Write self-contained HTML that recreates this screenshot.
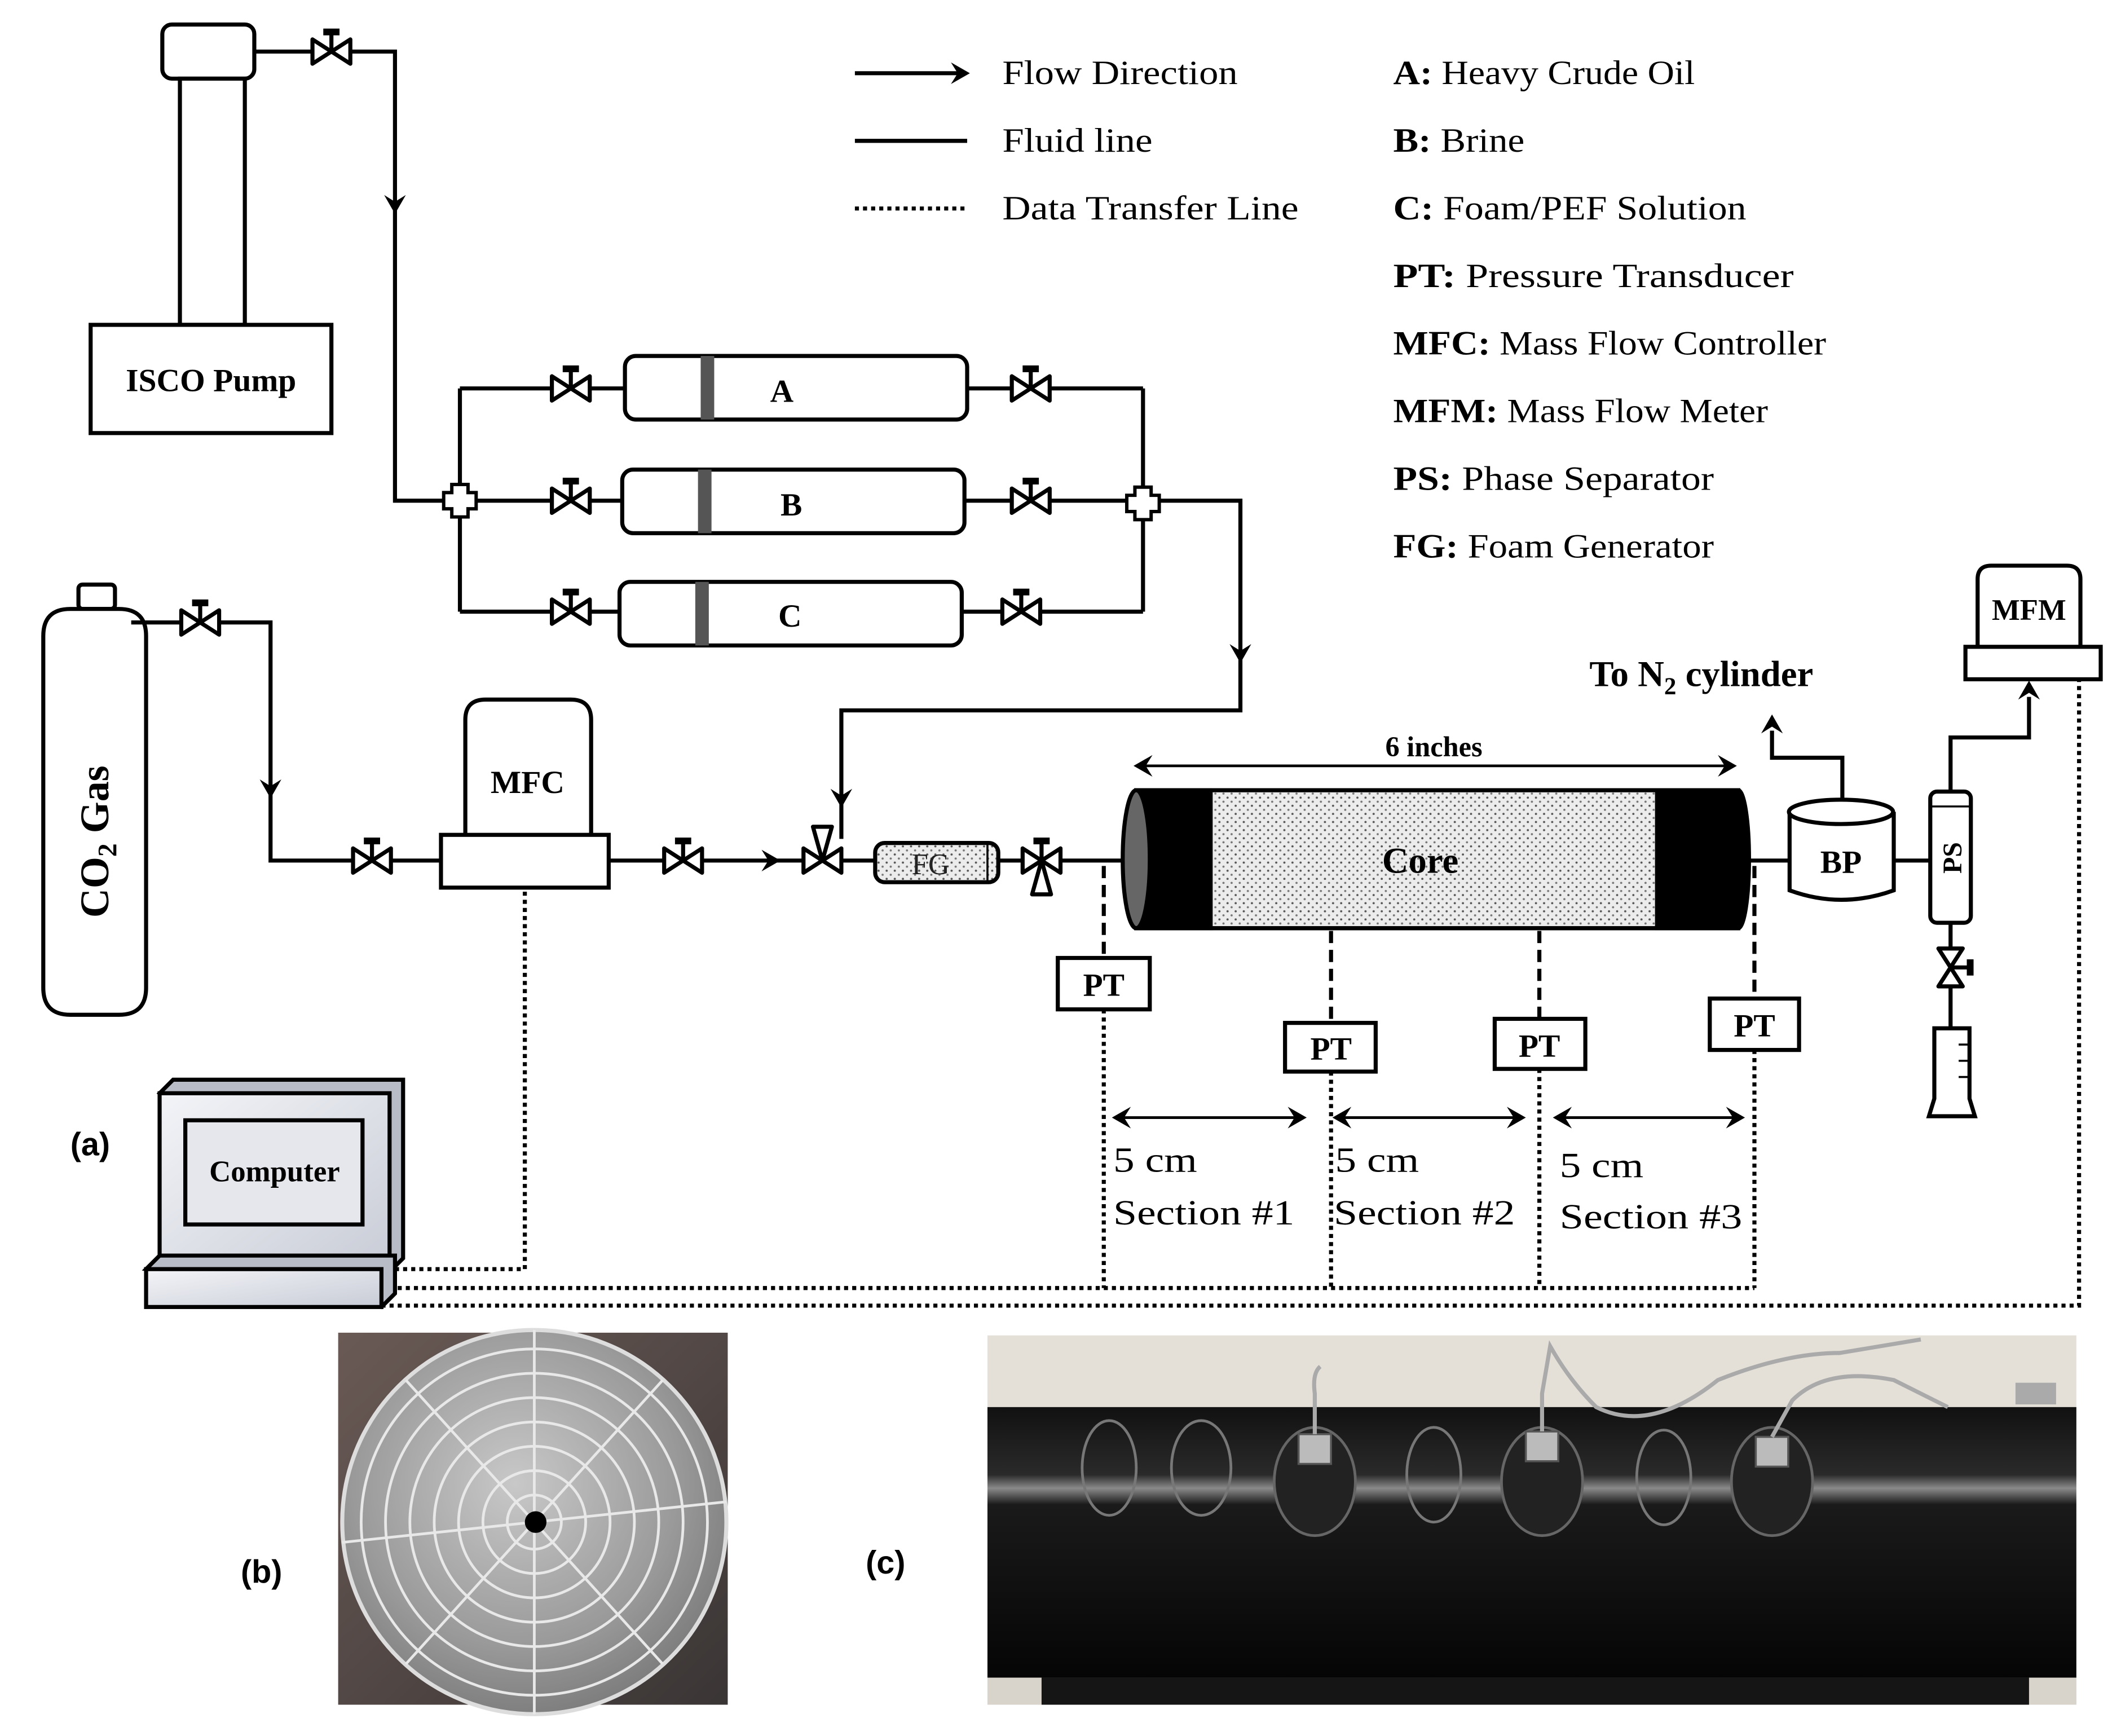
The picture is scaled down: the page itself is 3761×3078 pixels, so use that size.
<!DOCTYPE html>
<html><head><meta charset="utf-8"><style>
html,body{margin:0;padding:0;background:#fff;}
svg{display:block;}
text{font-family:"Liberation Serif",serif;}
.b{font-weight:bold;}
.s{font-family:"Liberation Sans",sans-serif;font-weight:bold;}
</style></head><body>
<svg width="3761" height="3078" viewBox="0 0 1568 1283" xmlns="http://www.w3.org/2000/svg">
<defs>
<pattern id="dots" width="6" height="6" patternUnits="userSpaceOnUse">
<rect width="6" height="6" fill="#ececec"/><circle cx="1.5" cy="1.5" r="0.8" fill="#555"/><circle cx="4.5" cy="4.5" r="0.8" fill="#777"/></pattern>
<g id="valve"><path d="M-14,-9 L14,9 L14,-9 L-14,9 Z" fill="#fff" stroke="#000" stroke-width="3" stroke-linejoin="round"/><line x1="0" y1="0" x2="0" y2="-13" stroke="#000" stroke-width="3"/><rect x="-6" y="-17" width="12" height="5" fill="#000"/></g>
<g id="ah"><path d="M0,0 L-14,-8 L-9,0 L-14,8 Z" fill="#000"/></g>
<linearGradient id="mon" x1="0" y1="0" x2="1" y2="1"><stop offset="0" stop-color="#f3f4f8"/><stop offset="1" stop-color="#c8ccd6"/></linearGradient>
<radialGradient id="disc" cx="0.45" cy="0.4" r="0.7"><stop offset="0" stop-color="#c8c8c8"/><stop offset="0.6" stop-color="#9a9a9a"/><stop offset="1" stop-color="#707070"/></radialGradient>
<linearGradient id="bgb" x1="0" y1="0" x2="1" y2="1"><stop offset="0" stop-color="#6a5a55"/><stop offset="1" stop-color="#3a3535"/></linearGradient>
<linearGradient id="pipe" x1="0" y1="0" x2="0" y2="1"><stop offset="0" stop-color="#111"/><stop offset="0.25" stop-color="#2a2a2a"/><stop offset="0.3" stop-color="#8a8a8a"/><stop offset="0.36" stop-color="#1a1a1a"/><stop offset="1" stop-color="#050505"/></linearGradient>
</defs>
<g fill="none" stroke="#000" stroke-width="3">
<rect x="120" y="18" width="68" height="40" rx="7" fill="#fff"/>
<rect x="133" y="58" width="48" height="182" fill="#fff"/>
<rect x="67" y="240" width="178" height="80" fill="#fff"/>
<polyline points="188,38 292,38 292,370 328,370"/>
<line x1="340" y1="287" x2="340" y2="452"/>
<line x1="340" y1="287" x2="462" y2="287"/><line x1="352" y1="370" x2="460" y2="370"/><line x1="340" y1="452" x2="458" y2="452"/>
<line x1="715" y1="287" x2="845" y2="287"/><line x1="713" y1="370" x2="833" y2="370"/><line x1="711" y1="452" x2="845" y2="452"/>
<line x1="845" y1="287" x2="845" y2="452"/>
<polyline points="857,370 917,370 917,525 622,525 622,620"/>
<rect x="462" y="263" width="253" height="47" rx="8" fill="#fff"/>
<rect x="460" y="347" width="253" height="47" rx="8" fill="#fff"/>
<rect x="458" y="430" width="253" height="47" rx="8" fill="#fff"/>
<rect x="58" y="432" width="27" height="18" rx="3" fill="#fff"/>
<path d="M32,470 Q32,450 52,450 L88,450 Q108,450 108,470 L108,730 Q108,750 88,750 L52,750 Q32,750 32,730 Z" fill="#fff"/>
<polyline points="97,460 200,460 200,636 326,636"/>
<path d="M344,617 L344,532 Q344,517 359,517 L422,517 Q437,517 437,532 L437,617" fill="#fff"/>
<rect x="326" y="617" width="124" height="39" fill="#fff"/>
<line x1="450" y1="636" x2="647" y2="636"/>
<line x1="738" y1="636" x2="833" y2="636"/>
<rect x="647" y="623" width="91" height="29" rx="7" fill="url(#dots)"/>
<line x1="730" y1="624" x2="730" y2="651" stroke-width="1.5"/>
<rect x="840" y="584" width="445" height="102" fill="url(#dots)"/>
<rect x="840" y="584" width="55" height="102" fill="#000"/>
<path d="M1225,584 L1285,584 L1285,686 L1225,686 Z" fill="#000"/>
<line x1="840" y1="584" x2="1285" y2="584"/><line x1="840" y1="686" x2="1285" y2="686"/>
<ellipse cx="840" cy="635" rx="10" ry="51" fill="#666"/>
<ellipse cx="1285" cy="635" rx="8" ry="51" fill="#000"/>
<line x1="1293" y1="636" x2="1323" y2="636"/>
<path d="M1323,600 L1323,658 Q1361,672 1400,658 L1400,600" fill="#fff"/>
<ellipse cx="1361" cy="600" rx="38.5" ry="9" fill="#fff"/>
<polyline points="1362,591 1362,560 1310,560 1310,540"/>
<line x1="1400" y1="636" x2="1427" y2="636"/>
<rect x="1427" y="585" width="30" height="97" rx="5" fill="#fff"/>
<line x1="1427" y1="596" x2="1457" y2="596" stroke-width="1.5"/>
<polyline points="1442,585 1442,545 1500,545 1500,515"/>
<line x1="1442" y1="682" x2="1442" y2="760"/>
<path d="M1430,760 L1456,760 L1456,812 L1460,825 L1426,825 L1430,812 Z" fill="#fff"/>
<line x1="1448" y1="772" x2="1456" y2="772" stroke-width="1.5"/><line x1="1448" y1="784" x2="1456" y2="784" stroke-width="1.5"/><line x1="1448" y1="796" x2="1456" y2="796" stroke-width="1.5"/>
<path d="M1462,478 L1462,428 Q1462,418 1472,418 L1528,418 Q1538,418 1538,428 L1538,478" fill="#fff"/>
<rect x="1453" y="478" width="100" height="24" fill="#fff"/>
<rect x="782" y="708" width="68" height="38" fill="#fff"/>
<rect x="950" y="756" width="67" height="36" fill="#fff"/>
<rect x="1105" y="753" width="67" height="37" fill="#fff"/>
<rect x="1264" y="738" width="66" height="38" fill="#fff"/>
<g stroke-dasharray="9 5"><line x1="816" y1="640" x2="816" y2="708"/><line x1="984" y1="688" x2="984" y2="756"/><line x1="1138" y1="688" x2="1138" y2="753"/><line x1="1297" y1="640" x2="1297" y2="738"/></g>
<g stroke-dasharray="3 3"><line x1="816" y1="746" x2="816" y2="952"/><line x1="984" y1="792" x2="984" y2="952"/><line x1="1138" y1="790" x2="1138" y2="952"/><line x1="1297" y1="776" x2="1297" y2="952"/>
<polyline points="292,938 388,938 388,656"/>
<line x1="282" y1="952" x2="1297" y2="952"/>
<polyline points="282,965 1537,965 1537,502"/>
<line x1="632" y1="154" x2="715" y2="154"/></g>
<line x1="632" y1="54" x2="710" y2="54"/><line x1="632" y1="104" x2="715" y2="104"/>
<line x1="842" y1="566" x2="1279" y2="566" stroke-width="2"/>
<line x1="826" y1="826" x2="962" y2="826" stroke-width="2"/>
<line x1="989" y1="826" x2="1124" y2="826" stroke-width="2"/>
<line x1="1152" y1="826" x2="1286" y2="826" stroke-width="2"/>
</g>
<rect x="518" y="263" width="10" height="47" fill="#555"/><rect x="516" y="347" width="10" height="47" fill="#555"/><rect x="514" y="430" width="10" height="47" fill="#555"/>
<g fill="#fff" stroke="#000" stroke-width="2.5"><path d="M334,358 h12 v6 h6 v12 h-6 v6 h-12 v-6 h-6 v-12 h6 z"/><path d="M839,360 h12 v6 h6 v12 h-6 v6 h-12 v-6 h-6 v-12 h6 z"/></g>
<use href="#valve" x="245" y="38"/><use href="#valve" x="422" y="287"/><use href="#valve" x="422" y="370"/><use href="#valve" x="422" y="452"/>
<use href="#valve" x="762" y="287"/><use href="#valve" x="762" y="370"/><use href="#valve" x="755" y="452"/>
<use href="#valve" x="148" y="460"/><use href="#valve" x="275" y="636"/><use href="#valve" x="505" y="636"/>
<g transform="translate(608,636)"><path d="M-14,-9 L14,9 L14,-9 L-14,9 Z M-7,-25 L7,-25 L0,0 Z" fill="#fff" stroke="#000" stroke-width="3" stroke-linejoin="round"/></g>
<g transform="translate(770,636)"><path d="M-14,-9 L14,9 L14,-9 L-14,9 Z M-7,25 L7,25 L0,0 Z" fill="#fff" stroke="#000" stroke-width="3" stroke-linejoin="round"/><line x1="0" y1="0" x2="0" y2="-13" stroke="#000" stroke-width="3"/><rect x="-6" y="-17" width="12" height="5"/></g>
<g transform="translate(1442,715) rotate(90)"><path d="M-14,-9 L14,9 L14,-9 L-14,9 Z" fill="#fff" stroke="#000" stroke-width="3" stroke-linejoin="round"/><line x1="0" y1="0" x2="0" y2="-13" stroke="#000" stroke-width="3"/><rect x="-6" y="-17" width="12" height="5"/></g>
<use href="#ah" transform="translate(292,158) rotate(90)"/>
<use href="#ah" transform="translate(917,490) rotate(90)"/>
<use href="#ah" transform="translate(622,597) rotate(90)"/>
<use href="#ah" transform="translate(200,590) rotate(90)"/>
<use href="#ah" transform="translate(577,636)"/>
<use href="#ah" transform="translate(717,54)"/>
<use href="#ah" transform="translate(1310,528) rotate(-90)"/>
<use href="#ah" transform="translate(1500,503) rotate(-90)"/>
<use href="#ah" transform="translate(838,566) rotate(180)"/><use href="#ah" transform="translate(1284,566)"/>
<use href="#ah" transform="translate(822,826) rotate(180)"/><use href="#ah" transform="translate(966,826)"/>
<use href="#ah" transform="translate(985,826) rotate(180)"/><use href="#ah" transform="translate(1128,826)"/>
<use href="#ah" transform="translate(1148,826) rotate(180)"/><use href="#ah" transform="translate(1290,826)"/>
<g stroke="#000" stroke-width="3">
<path d="M118,808 L128,798 L298,798 L298,930 L288,940 Z" fill="#b8bcc6"/>
<rect x="118" y="808" width="170" height="132" fill="url(#mon)"/>
<rect x="137" y="828" width="131" height="77" fill="#e6e7ec"/>
<path d="M108,938 L118,928 L292,928 L292,956 L282,966 Z" fill="#b8bcc6"/>
<rect x="108" y="938" width="174" height="28" fill="url(#mon)"/>
</g>
<g fill="#000">
<text x="156" y="289" font-size="24" class="b" text-anchor="middle">ISCO Pump</text>
<text x="578" y="297" font-size="24" class="b" text-anchor="middle">A</text>
<text x="585" y="381" font-size="24" class="b" text-anchor="middle">B</text>
<text x="584" y="463" font-size="24" class="b" text-anchor="middle">C</text>
<text transform="translate(80,622) rotate(-90)" font-size="30" class="b" text-anchor="middle">CO<tspan font-size="20" dy="6">2</tspan><tspan dy="-6"> Gas</tspan></text>
<text x="390" y="586" font-size="24" class="b" text-anchor="middle">MFC</text>
<text x="688" y="646" font-size="22" text-anchor="middle" fill="#222">FG</text>
<text x="1050" y="645" font-size="27" class="b" text-anchor="middle">Core</text>
<text x="1060" y="559" font-size="21" class="b" text-anchor="middle">6 inches</text>
<text x="1361" y="645" font-size="24" class="b" text-anchor="middle">BP</text>
<text transform="translate(1450,634) rotate(-90)" font-size="20" class="b" text-anchor="middle">PS</text>
<text x="1500" y="458" font-size="22" class="b" text-anchor="middle">MFM</text>
<text x="1175" y="507" font-size="27" class="b">To N<tspan font-size="18" dy="6">2</tspan><tspan dy="-6"> cylinder</tspan></text>
<text x="816" y="736" font-size="24" class="b" text-anchor="middle">PT</text>
<text x="984" y="783" font-size="24" class="b" text-anchor="middle">PT</text>
<text x="1138" y="781" font-size="24" class="b" text-anchor="middle">PT</text>
<text x="1297" y="766" font-size="24" class="b" text-anchor="middle">PT</text>
<g font-size="26"><text x="823" y="866" textLength="62" lengthAdjust="spacingAndGlyphs">5 cm</text><text x="823" y="905" textLength="134" lengthAdjust="spacingAndGlyphs">Section #1</text>
<text x="987" y="866" textLength="62" lengthAdjust="spacingAndGlyphs">5 cm</text><text x="986" y="905" textLength="134" lengthAdjust="spacingAndGlyphs">Section #2</text>
<text x="1153" y="870" textLength="62" lengthAdjust="spacingAndGlyphs">5 cm</text><text x="1153" y="908" textLength="135" lengthAdjust="spacingAndGlyphs">Section #3</text></g>
<text x="203" y="873" font-size="22" class="b" text-anchor="middle">Computer</text>
<text x="52" y="854" font-size="24" class="s">(a)</text>
<text x="178" y="1170" font-size="24" class="s">(b)</text>
<text x="640" y="1163" font-size="24" class="s">(c)</text>
<g font-size="25">
<text x="741" y="62" textLength="174" lengthAdjust="spacingAndGlyphs">Flow Direction</text>
<text x="741" y="112" textLength="111" lengthAdjust="spacingAndGlyphs">Fluid line</text>
<text x="741" y="162" textLength="219" lengthAdjust="spacingAndGlyphs">Data Transfer Line</text>
<text x="1030" y="62" textLength="223" lengthAdjust="spacingAndGlyphs"><tspan class="b">A:</tspan> Heavy Crude Oil</text>
<text x="1030" y="112" textLength="97" lengthAdjust="spacingAndGlyphs"><tspan class="b">B:</tspan> Brine</text>
<text x="1030" y="162" textLength="261" lengthAdjust="spacingAndGlyphs"><tspan class="b">C:</tspan> Foam/PEF Solution</text>
<text x="1030" y="212" textLength="296" lengthAdjust="spacingAndGlyphs"><tspan class="b">PT:</tspan> Pressure Transducer</text>
<text x="1030" y="262" textLength="320" lengthAdjust="spacingAndGlyphs"><tspan class="b">MFC:</tspan> Mass Flow Controller</text>
<text x="1030" y="312" textLength="277" lengthAdjust="spacingAndGlyphs"><tspan class="b">MFM:</tspan> Mass Flow Meter</text>
<text x="1030" y="362" textLength="237" lengthAdjust="spacingAndGlyphs"><tspan class="b">PS:</tspan> Phase Separator</text>
<text x="1030" y="412" textLength="237" lengthAdjust="spacingAndGlyphs"><tspan class="b">FG:</tspan> Foam Generator</text></g>
</g>
<rect x="250" y="985" width="288" height="275" fill="url(#bgb)"/>
<circle cx="395" cy="1125" r="142" fill="url(#disc)" stroke="#ddd" stroke-width="3"/>
<g fill="none" stroke="#e8e8e8" stroke-width="2">
<circle cx="395" cy="1125" r="20"/><circle cx="395" cy="1125" r="38"/><circle cx="395" cy="1125" r="56"/><circle cx="395" cy="1125" r="74"/><circle cx="395" cy="1125" r="92"/><circle cx="395" cy="1125" r="110"/><circle cx="395" cy="1125" r="128"/>
<line x1="395" y1="983" x2="395" y2="1267"/><line x1="253" y1="1140" x2="537" y2="1110"/><line x1="300" y1="1020" x2="490" y2="1230"/><line x1="490" y1="1020" x2="300" y2="1230"/></g>
<circle cx="396" cy="1125" r="8" fill="#000"/>
<rect x="730" y="987" width="805" height="273" fill="#e4e0d8"/>
<rect x="730" y="1040" width="805" height="200" fill="url(#pipe)"/>
<rect x="730" y="1240" width="805" height="20" fill="#d8d4cc"/>
<rect x="770" y="1240" width="730" height="20" fill="#151515"/>
<g fill="none" stroke="#777" stroke-width="2"><ellipse cx="820" cy="1085" rx="20" ry="35"/><ellipse cx="888" cy="1085" rx="22" ry="35"/><ellipse cx="1060" cy="1090" rx="20" ry="35"/><ellipse cx="1230" cy="1092" rx="20" ry="35"/></g>
<g fill="#222" stroke="#666" stroke-width="2"><ellipse cx="972" cy="1095" rx="30" ry="40"/><ellipse cx="1140" cy="1095" rx="30" ry="40"/><ellipse cx="1310" cy="1095" rx="30" ry="40"/></g>
<g fill="#bbb" stroke="#555" stroke-width="1.5"><path d="M960,1060 h24 v22 h-24 z"/><path d="M1128,1058 h24 v22 h-24 z"/><path d="M1298,1062 h24 v22 h-24 z"/></g>
<g fill="none" stroke="#aaa" stroke-width="3"><path d="M972,1060 V1030 Q970,1015 976,1010"/><path d="M1140,1058 V1030 L1146,995 Q1160,1020 1180,1040 Q1220,1060 1270,1020 Q1320,1000 1360,1000 L1420,990"/><path d="M1310,1062 L1325,1035 Q1350,1010 1400,1020 L1440,1040"/></g>
<rect x="1490" y="1022" width="30" height="16" fill="#aaa"/>
</svg>
</body></html>
